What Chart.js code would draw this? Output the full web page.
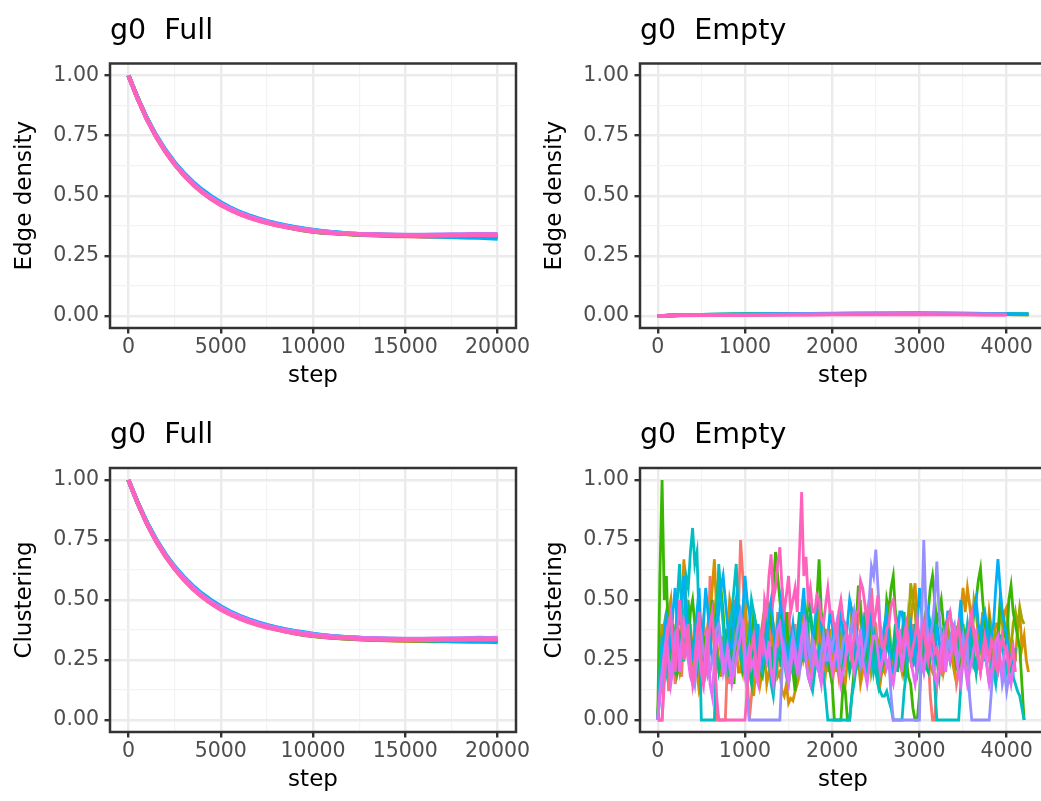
<!DOCTYPE html>
<html>
<head>
<meta charset="utf-8">
<script src="https://cdn.jsdelivr.net/npm/chart.js@4.4.1/dist/chart.umd.min.js"></script>
<style>
html,body{margin:0;padding:0;background:#ffffff;overflow:hidden;}
#wrap{position:relative;width:1041px;height:801px;overflow:hidden;background:#ffffff;}
canvas{position:absolute;}
</style>
</head>
<body>
<div id="wrap">
<canvas id="c1" width="540" height="400" style="left:0px;top:0px;"></canvas>
<canvas id="c2" width="540" height="400" style="left:530px;top:0px;"></canvas>
<canvas id="c3" width="540" height="404" style="left:0px;top:400px;"></canvas>
<canvas id="c4" width="540" height="404" style="left:530px;top:400px;"></canvas>
</div>
<script>
// ---------- categories / ticks ----------
const COLORS = ['#F8766D','#D89000','#A3A500','#39B600','#00BF7D','#00BFC4','#00B0F6','#9590FF','#E76BF3','#FF62BC'];
const RUNS = ['1','2','3','4','5','6','7','8','9','10'];

const X_MAJOR_FULL = [0,5000,10000,15000,20000];
const X_LABELS_FULL = ['0','5000','10000','15000','20000'];
const X_MINOR_FULL = [2500,7500,12500,17500];
const X_MAJOR_EMPTY = [0,1000,2000,3000,4000];
const X_LABELS_EMPTY = ['0','1000','2000','3000','4000'];
const X_MINOR_EMPTY = [500,1500,2500,3500];
const Y_MAJOR = [0,0.25,0.5,0.75,1];
const Y_LABELS = ['0.00','0.25','0.50','0.75','1.00'];
const Y_MINOR = [0.125,0.375,0.625,0.875];

// ---------- steps ----------
const STEPS_FULL = [0,500,1000,1500,2000,2500,3000,3500,4000,4500,5000,5500,6000,6500,7000,7500,8000,8500,9000,9500,10000,10500,11000,11500,12000,12500,13000,13500,14000,14500,15000,15500,16000,16500,17000,17500,18000,18500,19000,19500,20000];
const STEPS_EMPTY_DENS = [0,250,500,750,1000,1250,1500,1750,2000,2250,2500,2750,3000,3250,3500,3750,4000,4250];
const STEPS_EMPTY_CLUST = [
0,25,50,75,100,125,150,175,200,225,250,275,300,325,350,375,400,425,450,475,
500,525,550,575,600,625,650,675,700,725,750,775,800,825,850,875,900,925,950,975,
1000,1025,1050,1075,1100,1125,1150,1175,1200,1225,1250,1275,1300,1325,1350,1375,1400,1425,1450,1475,
1500,1525,1550,1575,1600,1625,1650,1675,1700,1725,1750,1775,1800,1825,1850,1875,1900,1925,1950,1975,
2000,2025,2050,2075,2100,2125,2150,2175,2200,2225,2250,2275,2300,2325,2350,2375,2400,2425,2450,2475,
2500,2525,2550,2575,2600,2625,2650,2675,2700,2725,2750,2775,2800,2825,2850,2875,2900,2925,2950,2975,
3000,3025,3050,3075,3100,3125,3150,3175,3200,3225,3250,3275,3300,3325,3350,3375,3400,3425,3450,3475,
3500,3525,3550,3575,3600,3625,3650,3675,3700,3725,3750,3775,3800,3825,3850,3875,3900,3925,3950,3975,
4000,4025,4050,4075,4100,4125,4150,4175,4200,4225,4250];

// ---------- Edge density, Full ----------
const ED_FULL_1 = [1.000,0.904,0.818,0.746,0.684,0.631,0.586,0.547,0.514,0.486,0.463,0.443,0.426,0.411,0.399,0.388,0.379,0.371,0.364,0.358,0.352,0.348,0.345,0.342,0.340,0.338,0.336,0.335,0.333,0.332,0.332,0.331,0.330,0.331,0.330,0.329,0.328,0.327,0.329,0.328,0.330];
const ED_FULL_2 = [1.000,0.905,0.819,0.747,0.685,0.632,0.587,0.548,0.515,0.487,0.464,0.444,0.427,0.412,0.400,0.389,0.380,0.372,0.365,0.359,0.353,0.349,0.346,0.343,0.341,0.339,0.337,0.336,0.335,0.334,0.333,0.333,0.332,0.333,0.332,0.332,0.331,0.332,0.330,0.331,0.332];
const ED_FULL_3 = [1.000,0.906,0.821,0.749,0.687,0.634,0.589,0.550,0.517,0.489,0.466,0.446,0.429,0.415,0.403,0.392,0.382,0.373,0.366,0.360,0.355,0.350,0.347,0.344,0.342,0.340,0.339,0.338,0.337,0.336,0.335,0.335,0.334,0.334,0.335,0.334,0.333,0.334,0.333,0.334,0.333];
const ED_FULL_4 = [1.000,0.905,0.820,0.748,0.686,0.633,0.588,0.549,0.516,0.488,0.465,0.446,0.430,0.416,0.403,0.391,0.380,0.371,0.363,0.356,0.351,0.347,0.344,0.342,0.340,0.338,0.337,0.336,0.335,0.334,0.334,0.333,0.333,0.334,0.333,0.332,0.333,0.332,0.333,0.332,0.333];
const ED_FULL_5 = [1.000,0.905,0.820,0.748,0.686,0.633,0.588,0.549,0.516,0.488,0.465,0.445,0.428,0.414,0.402,0.391,0.381,0.372,0.365,0.359,0.354,0.349,0.346,0.343,0.341,0.339,0.338,0.337,0.336,0.335,0.334,0.334,0.333,0.333,0.334,0.333,0.333,0.332,0.333,0.332,0.331];
const ED_FULL_6 = [1.000,0.906,0.822,0.750,0.689,0.636,0.591,0.553,0.520,0.492,0.469,0.449,0.432,0.417,0.404,0.393,0.384,0.376,0.369,0.362,0.356,0.352,0.349,0.346,0.343,0.341,0.339,0.338,0.337,0.336,0.335,0.334,0.334,0.333,0.333,0.332,0.332,0.331,0.330,0.329,0.327];
const ED_FULL_7 = [1.000,0.907,0.823,0.752,0.691,0.639,0.595,0.557,0.525,0.497,0.473,0.452,0.434,0.419,0.406,0.395,0.385,0.377,0.370,0.364,0.358,0.353,0.349,0.346,0.343,0.341,0.339,0.337,0.336,0.335,0.334,0.333,0.332,0.331,0.330,0.329,0.328,0.327,0.326,0.324,0.322];
const ED_FULL_8 = [1.000,0.905,0.820,0.748,0.687,0.634,0.590,0.551,0.518,0.490,0.467,0.447,0.430,0.415,0.402,0.391,0.382,0.374,0.367,0.361,0.356,0.351,0.348,0.345,0.343,0.341,0.340,0.339,0.338,0.338,0.337,0.337,0.337,0.338,0.338,0.339,0.339,0.340,0.341,0.340,0.341];
const ED_FULL_9 = [1.000,0.904,0.819,0.747,0.686,0.633,0.588,0.550,0.517,0.489,0.466,0.446,0.429,0.414,0.402,0.391,0.381,0.373,0.366,0.360,0.354,0.350,0.347,0.344,0.342,0.340,0.339,0.338,0.337,0.336,0.336,0.335,0.336,0.336,0.337,0.336,0.337,0.338,0.337,0.338,0.339];
const ED_FULL_10 = [1.000,0.904,0.818,0.745,0.683,0.630,0.585,0.546,0.513,0.485,0.461,0.441,0.424,0.409,0.397,0.387,0.378,0.370,0.363,0.357,0.352,0.348,0.345,0.343,0.341,0.339,0.338,0.337,0.336,0.336,0.335,0.335,0.336,0.335,0.336,0.337,0.336,0.337,0.338,0.337,0.336];

// ---------- Edge density, Empty ----------
const ED_EMPTY_1 = [0.000,0.003,0.004,0.005,0.006,0.006,0.007,0.007,0.008,0.008,0.008,0.009,0.009,0.008,0.008,0.007];
const ED_EMPTY_2 = [0.000,0.003,0.005,0.005,0.006,0.007,0.007,0.008,0.008,0.009,0.009,0.009,0.010,0.009,0.009,0.008,0.007,0.006];
const ED_EMPTY_3 = [0.000,0.004,0.005,0.006,0.006,0.007,0.008,0.008,0.009,0.009,0.010,0.010,0.010,0.009,0.009,0.008,0.007,0.007];
const ED_EMPTY_4 = [0.000,0.003,0.004,0.005,0.006,0.006,0.007,0.008,0.008,0.009,0.009,0.010,0.010,0.010,0.009,0.008,0.007,0.006];
const ED_EMPTY_5 = [0.000,0.004,0.005,0.006,0.007,0.007,0.008,0.008,0.009,0.010,0.010,0.010,0.011,0.010,0.009,0.008,0.008];
const ED_EMPTY_6 = [0.000,0.004,0.005,0.006,0.007,0.008,0.008,0.009,0.010,0.010,0.011,0.011,0.011,0.010,0.010,0.009,0.008,0.007];
const ED_EMPTY_7 = [0.000,0.003,0.005,0.006,0.006,0.007,0.008,0.009,0.009,0.010,0.010,0.011,0.011,0.011,0.010,0.009,0.008,0.007];
const ED_EMPTY_8 = [0.000,0.003,0.004,0.005,0.005,0.006,0.006,0.007,0.007,0.008,0.008,0.008,0.009,0.008,0.008,0.007,0.006];
const ED_EMPTY_9 = [0.000,0.003,0.004,0.004,0.005,0.005,0.006,0.006,0.007,0.007,0.007,0.008,0.008,0.007,0.007,0.006,0.006];
const ED_EMPTY_10 = [0.000,0.002,0.003,0.004,0.004,0.005,0.005,0.005,0.006,0.006,0.006,0.006,0.006,0.006,0.006,0.005,0.005];

// ---------- Clustering, Full ----------
const CL_FULL_1 = [1.000,0.903,0.817,0.745,0.683,0.630,0.585,0.546,0.513,0.485,0.462,0.442,0.425,0.410,0.398,0.387,0.378,0.370,0.363,0.357,0.351,0.347,0.344,0.341,0.339,0.337,0.335,0.334,0.333,0.332,0.331,0.330,0.330,0.329,0.330,0.328,0.327,0.328,0.327,0.328,0.329];
const CL_FULL_2 = [1.000,0.904,0.818,0.746,0.684,0.631,0.586,0.547,0.514,0.486,0.463,0.443,0.426,0.411,0.399,0.388,0.379,0.371,0.364,0.358,0.352,0.348,0.345,0.342,0.340,0.338,0.336,0.335,0.334,0.333,0.332,0.332,0.331,0.331,0.330,0.331,0.330,0.329,0.330,0.329,0.330];
const CL_FULL_3 = [1.000,0.905,0.820,0.748,0.686,0.633,0.588,0.549,0.516,0.488,0.465,0.445,0.428,0.414,0.402,0.391,0.381,0.372,0.365,0.359,0.354,0.349,0.346,0.343,0.341,0.339,0.338,0.337,0.336,0.335,0.334,0.334,0.333,0.333,0.332,0.333,0.332,0.333,0.332,0.333,0.332];
const CL_FULL_4 = [1.000,0.904,0.819,0.747,0.685,0.632,0.587,0.548,0.515,0.487,0.464,0.445,0.429,0.415,0.402,0.390,0.379,0.370,0.362,0.355,0.350,0.346,0.343,0.341,0.339,0.337,0.336,0.335,0.334,0.333,0.333,0.332,0.332,0.331,0.332,0.331,0.330,0.331,0.330,0.331,0.330];
const CL_FULL_5 = [1.000,0.905,0.821,0.749,0.687,0.634,0.589,0.550,0.517,0.489,0.466,0.446,0.429,0.415,0.403,0.392,0.382,0.373,0.366,0.360,0.355,0.350,0.347,0.344,0.342,0.340,0.339,0.338,0.337,0.336,0.335,0.335,0.334,0.334,0.333,0.334,0.333,0.333,0.332,0.333,0.332];
const CL_FULL_6 = [1.000,0.906,0.822,0.751,0.690,0.637,0.592,0.554,0.521,0.493,0.470,0.450,0.433,0.418,0.405,0.394,0.385,0.377,0.370,0.363,0.357,0.353,0.350,0.347,0.344,0.342,0.340,0.339,0.338,0.337,0.336,0.336,0.335,0.335,0.334,0.334,0.333,0.333,0.332,0.331,0.330];
const CL_FULL_7 = [1.000,0.907,0.824,0.753,0.692,0.640,0.596,0.558,0.526,0.498,0.474,0.453,0.435,0.420,0.407,0.396,0.386,0.378,0.371,0.365,0.359,0.354,0.350,0.347,0.344,0.342,0.340,0.338,0.337,0.336,0.335,0.334,0.333,0.332,0.331,0.330,0.329,0.328,0.327,0.326,0.324];
const CL_FULL_8 = [1.000,0.905,0.821,0.749,0.688,0.635,0.591,0.552,0.519,0.491,0.468,0.448,0.431,0.416,0.403,0.392,0.383,0.375,0.368,0.362,0.357,0.352,0.349,0.346,0.344,0.342,0.341,0.340,0.339,0.339,0.338,0.338,0.338,0.339,0.339,0.340,0.340,0.341,0.342,0.341,0.342];
const CL_FULL_9 = [1.000,0.904,0.819,0.747,0.686,0.633,0.589,0.550,0.517,0.489,0.466,0.446,0.429,0.415,0.402,0.391,0.382,0.374,0.367,0.361,0.355,0.351,0.348,0.345,0.343,0.341,0.340,0.339,0.338,0.337,0.337,0.336,0.337,0.337,0.338,0.337,0.338,0.339,0.338,0.339,0.340];
const CL_FULL_10 = [1.000,0.903,0.817,0.744,0.682,0.629,0.584,0.545,0.512,0.484,0.460,0.440,0.423,0.408,0.396,0.386,0.377,0.369,0.362,0.356,0.351,0.347,0.344,0.342,0.340,0.338,0.337,0.336,0.335,0.335,0.334,0.334,0.335,0.334,0.335,0.336,0.335,0.336,0.337,0.336,0.337];

// ---------- Clustering, Empty (every 25 steps) ----------
const CL_EMPTY_1 = [
0,0,0.00,0.20,0.35,0.12,0.20,0.28,0.15,0.22,0.30,0.18,0.42,0.33,0.25,0.40,0.18,0.27,0.30,0.15,
0.22,0.40,0.35,0.25,0.60,0.45,0.30,0.00,0.00,0.00,0.00,0.00,0.25,0.15,0.40,0.50,0.33,0.45,0.75,0.60,
0.45,0.20,0.00,0.10,0.20,0.35,0.30,0.18,0.25,0.40,0.50,0.30,0.40,0.25,0.30,0.45,0.22,0.30,0.35,0.20,
0.45,0.33,0.30,0.40,0.20,0.27,0.38,0.25,0.28,0.40,0.22,0.15,0.35,0.45,0.25,0.18,0.30,0.38,0.20,0.28,
0.15,0.22,0.25,0.18,0.30,0.40,0.22,0.30,0.35,0.25,0.28,0.35,0.40,0.50,0.30,0.38,0.45,0.35,0.55,0.42,
0.40,0.28,0.30,0.20,0.22,0.33,0.30,0.15,0.18,0.25,0.25,0.35,0.33,0.22,0.20,0.30,0.25,0.40,0.30,0.20,
0.22,0.30,0.35,0.45,0.28,0.10,0.00,0.00,0.15,0.25,0.30,0.20,0.22,0.33,0.35,0.28,0.25,0.15,0.20,0.30,
0.30,0.22,0.40,0.30,0.25,0.38,0.35,0.25,0.20,0.28,0.30,0.22,0.15,0.30,0.25,0.18,0.20];
const CL_EMPTY_2 = [
0,0.25,0.40,0.30,0.25,0.45,0.50,0.28,0.35,0.22,0.20,0.45,0.67,0.50,0.40,0.22,0.30,0.40,0.20,0.12,
0.15,0.25,0.30,0.40,0.45,0.55,0.67,0.45,0.40,0.30,0.25,0.35,0.35,0.50,0.45,0.30,0.30,0.20,0.20,0.40,
0.55,0.35,0.40,0.20,0.10,0.22,0.30,0.15,0.20,0.28,0.15,0.20,0.25,0.40,0.35,0.18,0.20,0.12,0.10,0.15,
0.07,0.09,0.08,0.12,0.15,0.20,0.25,0.33,0.35,0.25,0.20,0.27,0.30,0.45,0.40,0.30,0.25,0.20,0.30,0.38,
0.20,0.28,0.35,0.22,0.25,0.18,0.15,0.25,0.30,0.45,0.40,0.30,0.25,0.15,0.20,0.25,0.30,0.42,0.35,0.28,
0.25,0.18,0.15,0.22,0.20,0.35,0.30,0.20,0.25,0.30,0.35,0.25,0.20,0.28,0.30,0.45,0.40,0.50,0.57,0.40,
0.35,0.28,0.25,0.35,0.30,0.22,0.20,0.30,0.40,0.33,0.30,0.20,0.25,0.38,0.35,0.25,0.20,0.28,0.30,0.45,
0.55,0.45,0.55,0.48,0.40,0.35,0.30,0.25,0.35,0.45,0.25,0.33,0.45,0.38,0.30,0.40,0.40,0.30,0.35,0.45,
0.47,0.35,0.30,0.22,0.25,0.38,0.45,0.30,0.35,0.25,0.20];
const CL_EMPTY_3 = [
0,0.20,0.30,0.40,0.45,0.30,0.25,0.33,0.35,0.25,0.20,0.28,0.30,0.42,0.50,0.35,0.25,0.30,0.35,0.45,
0.40,0.30,0.20,0.25,0.30,0.38,0.45,0.33,0.25,0.18,0.35,0.28,0.20,0.25,0.30,0.45,0.40,0.30,0.25,0.20,
0.30,0.40,0.20,0.28,0.35,0.25,0.25,0.33,0.40,0.30,0.30,0.22,0.20,0.30,0.25,0.40,0.35,0.25,0.30,0.35,
0.20,0.28,0.30,0.22,0.25,0.30,0.35,0.45,0.40,0.30,0.25,0.35,0.30,0.40,0.45,0.35,0.35,0.25,0.25,0.30,
0.30,0.38,0.20,0.28,0.35,0.25,0.25,0.33,0.30,0.45,0.40,0.30,0.25,0.20,0.35,0.28,0.30,0.38,0.20,0.25,
0.25,0.30,0.35,0.25,0.30,0.45,0.40,0.30,0.25,0.35,0.30,0.22,0.35,0.28,0.20,0.40,0.57,0.50,0.45,0.33,
0.30,0.25,0.35,0.45,0.25,0.30,0.40,0.33,0.30,0.22,0.20,0.30,0.35,0.42,0.25,0.33,0.30,0.38,0.40,0.30,
0.30,0.38,0.25,0.30,0.35,0.50,0.45,0.35,0.30,0.42,0.40,0.33,0.35,0.28,0.25,0.35,0.30,0.45,0.40,0.35,
0.35,0.28,0.30,0.40,0.45,0.38,0.47,0.42,0.40];
const CL_EMPTY_4 = [
0,0.60,1.00,0.50,0.60,0.30,0.17,0.40,0.33,0.20,0.25,0.35,0.42,0.28,0.30,0.45,0.50,0.40,0.36,0.25,
0.22,0.35,0.28,0.20,0.40,0.50,0.30,0.45,0.62,0.55,0.45,0.30,0.33,0.40,0.25,0.15,0.40,0.48,0.30,0.20,
0.22,0.30,0.35,0.25,0.45,0.38,0.30,0.20,0.18,0.25,0.27,0.45,0.40,0.55,0.70,0.60,0.50,0.40,0.35,0.45,
0.28,0.35,0.20,0.12,0.30,0.22,0.25,0.33,0.38,0.50,0.45,0.35,0.30,0.50,0.67,0.45,0.40,0.30,0.25,0.20,
0.15,0.00,0.00,0.00,0.00,0.15,0.12,0.00,0.00,0.10,0.20,0.40,0.56,0.45,0.35,0.25,0.25,0.35,0.45,0.38,
0.30,0.25,0.20,0.30,0.35,0.50,0.45,0.55,0.60,0.45,0.40,0.33,0.30,0.20,0.25,0.18,0.15,0.05,0.00,0.00,
0.10,0.25,0.35,0.45,0.45,0.55,0.60,0.50,0.40,0.45,0.50,0.40,0.35,0.28,0.25,0.35,0.30,0.22,0.20,0.30,
0.40,0.30,0.25,0.38,0.35,0.45,0.50,0.58,0.63,0.50,0.40,0.33,0.30,0.25,0.22,0.30,0.35,0.50,0.45,0.40,
0.30,0.50,0.56,0.45,0.40,0.35,0.30,0.15,0.00];
const CL_EMPTY_5 = [
0,0.15,0.25,0.33,0.40,0.28,0.30,0.22,0.20,0.30,0.35,0.25,0.25,0.38,0.45,0.35,0.30,0.22,0.20,0.30,
0.35,0.25,0.25,0.33,0.30,0.45,0.40,0.28,0.20,0.25,0.30,0.38,0.25,0.18,0.35,0.45,0.45,0.35,0.30,0.22,
0.25,0.30,0.20,0.15,0.30,0.40,0.35,0.25,0.25,0.33,0.40,0.30,0.30,0.22,0.20,0.28,0.25,0.38,0.35,0.25,
0.30,0.22,0.20,0.28,0.35,0.45,0.25,0.33,0.30,0.40,0.45,0.35,0.30,0.25,0.20,0.30,0.35,0.28,0.25,0.33,
0.30,0.38,0.40,0.30,0.25,0.20,0.35,0.28,0.20,0.25,0.30,0.40,0.25,0.30,0.35,0.45,0.30,0.22,0.25,0.33,
0.20,0.15,0.30,0.22,0.25,0.30,0.35,0.25,0.30,0.40,0.20,0.28,0.35,0.45,0.25,0.33,0.30,0.22,0.40,0.30,
0.25,0.33,0.30,0.22,0.20,0.28,0.35,0.45,0.25,0.18,0.30,0.38,0.40,0.30,0.25,0.33,0.30,0.25,0.35,0.45,
0.25,0.30,0.30,0.22,0.35,0.28,0.20,0.30,0.30,0.38,0.25,0.33,0.40,0.30,0.30,0.22,0.25,0.35,0.35,0.28,
0.30,0.22,0.20,0.28,0.25];
const CL_EMPTY_6 = [
0,0.20,0.35,0.25,0.20,0.35,0.45,0.33,0.30,0.50,0.65,0.45,0.40,0.60,0.55,0.70,0.80,0.65,0.70,0.40,
0.00,0.00,0.00,0.00,0.00,0.00,0.00,0.35,0.65,0.50,0.40,0.25,0.30,0.40,0.45,0.55,0.65,0.45,0.30,0.22,
0.20,0.28,0.35,0.50,0.45,0.38,0.30,0.22,0.20,0.30,0.35,0.25,0.15,0.10,0.20,0.28,0.30,0.35,0.25,0.18,
0.15,0.22,0.30,0.25,0.20,0.28,0.35,0.25,0.25,0.18,0.15,0.12,0.20,0.25,0.30,0.22,0.20,0.10,0.00,0.00,
0.00,0.00,0.00,0.00,0.00,0.00,0.00,0.00,0.00,0.10,0.15,0.22,0.25,0.35,0.30,0.25,0.20,0.28,0.30,0.20,
0.25,0.15,0.12,0.10,0.10,0.12,0.08,0.05,0.00,0.00,0.00,0.00,0.00,0.12,0.20,0.30,0.35,0.28,0.25,0.20,
0.30,0.22,0.20,0.30,0.25,0.40,0.35,0.15,0.00,0.00,0.00,0.00,0.00,0.00,0.00,0.00,0.00,0.00,0.00,0.15,
0.25,0.33,0.40,0.30,0.30,0.22,0.20,0.28,0.35,0.25,0.25,0.33,0.30,0.22,0.20,0.15,0.25,0.33,0.30,0.25,
0.20,0.28,0.25,0.18,0.15,0.12,0.10,0.05,0.00];
const CL_EMPTY_7 = [
0,0.10,0.20,0.35,0.45,0.30,0.30,0.45,0.55,0.40,0.40,0.50,0.60,0.45,0.35,0.25,0.25,0.35,0.45,0.55,
0.30,0.40,0.55,0.45,0.35,0.25,0.25,0.35,0.45,0.55,0.60,0.50,0.40,0.30,0.30,0.42,0.50,0.40,0.35,0.45,
0.60,0.50,0.45,0.35,0.30,0.22,0.40,0.30,0.25,0.33,0.35,0.45,0.50,0.38,0.30,0.40,0.45,0.55,0.35,0.28,
0.25,0.33,0.40,0.30,0.30,0.38,0.45,0.55,0.35,0.28,0.25,0.33,0.40,0.48,0.50,0.40,0.30,0.25,0.35,0.45,
0.40,0.30,0.25,0.35,0.45,0.38,0.30,0.40,0.50,0.45,0.35,0.25,0.25,0.33,0.40,0.30,0.30,0.38,0.45,0.35,
0.35,0.28,0.25,0.33,0.40,0.45,0.30,0.22,0.20,0.28,0.35,0.45,0.45,0.38,0.30,0.35,0.40,0.30,0.25,0.40,
0.55,0.45,0.35,0.40,0.45,0.35,0.30,0.25,0.40,0.33,0.25,0.30,0.35,0.45,0.45,0.38,0.30,0.35,0.40,0.50,
0.35,0.28,0.25,0.33,0.40,0.45,0.50,0.40,0.35,0.42,0.45,0.38,0.30,0.35,0.40,0.55,0.67,0.55,0.45,0.40,
0.35,0.28,0.25,0.20,0.30];
const CL_EMPTY_8 = [
0,0.10,0.15,0.22,0.30,0.25,0.20,0.28,0.35,0.30,0.25,0.33,0.40,0.35,0.30,0.22,0.20,0.15,0.25,0.30,
0.35,0.28,0.25,0.18,0.20,0.25,0.30,0.38,0.40,0.33,0.25,0.20,0.30,0.25,0.20,0.28,0.35,0.40,0.45,0.38,
0.30,0.10,0.00,0.00,0.00,0.00,0.00,0.00,0.00,0.00,0.00,0.00,0.00,0.00,0.00,0.00,0.00,0.20,0.30,0.25,
0.20,0.28,0.35,0.30,0.25,0.20,0.30,0.38,0.40,0.30,0.25,0.33,0.30,0.22,0.20,0.28,0.35,0.25,0.25,0.33,
0.30,0.35,0.40,0.30,0.25,0.33,0.35,0.28,0.30,0.40,0.45,0.35,0.30,0.22,0.25,0.30,0.35,0.50,0.64,0.60,
0.71,0.55,0.40,0.33,0.30,0.22,0.25,0.10,0.00,0.00,0.00,0.00,0.00,0.00,0.00,0.00,0.00,0.00,0.00,0.00,
0.00,0.40,0.75,0.45,0.30,0.35,0.40,0.50,0.66,0.45,0.35,0.28,0.25,0.33,0.30,0.38,0.40,0.30,0.25,0.30,
0.35,0.25,0.30,0.10,0.00,0.00,0.00,0.00,0.00,0.00,0.00,0.00,0.00,0.12,0.25,0.30,0.20,0.25,0.15,0.20,
0.12,0.18,0.15];
const CL_EMPTY_9 = [
0,0.12,0.20,0.28,0.35,0.25,0.15,0.22,0.30,0.38,0.20,0.30,0.40,0.33,0.25,0.18,0.15,0.25,0.35,0.28,
0.20,0.15,0.30,0.38,0.15,0.10,0.25,0.33,0.35,0.28,0.20,0.25,0.30,0.22,0.15,0.20,0.25,0.30,0.35,0.42,
0.20,0.25,0.30,0.22,0.25,0.18,0.15,0.28,0.35,0.30,0.25,0.33,0.20,0.15,0.30,0.38,0.40,0.32,0.25,0.20,
0.15,0.22,0.30,0.25,0.20,0.28,0.35,0.40,0.25,0.18,0.15,0.22,0.30,0.25,0.20,0.15,0.25,0.30,0.35,0.28,
0.20,0.25,0.30,0.22,0.15,0.20,0.25,0.33,0.35,0.28,0.20,0.25,0.30,0.38,0.25,0.20,0.15,0.22,0.30,0.35,
0.35,0.28,0.20,0.25,0.30,0.22,0.25,0.18,0.15,0.22,0.30,0.38,0.20,0.28,0.35,0.30,0.25,0.20,0.15,0.22,
0.30,0.25,0.20,0.28,0.35,0.30,0.25,0.18,0.15,0.22,0.30,0.35,0.20,0.28,0.25,0.30,0.35,0.25,0.20,0.15,
0.30,0.22,0.15,0.20,0.25,0.30,0.35,0.28,0.20,0.25,0.30,0.22,0.15,0.20,0.25,0.33,0.35,0.25,0.20,0.28,
0.30,0.20,0.15,0.22,0.25];
const CL_EMPTY_10 = [
0,0.00,0.00,0.15,0.30,0.40,0.45,0.30,0.20,0.35,0.50,0.40,0.25,0.33,0.40,0.25,0.15,0.22,0.35,0.45,
0.25,0.15,0.20,0.30,0.40,0.45,0.30,0.10,0.00,0.00,0.00,0.00,0.00,0.00,0.00,0.00,0.00,0.00,0.00,0.00,
0.00,0.12,0.25,0.30,0.35,0.25,0.20,0.35,0.30,0.50,0.45,0.60,0.69,0.50,0.55,0.65,0.72,0.55,0.45,0.52,
0.60,0.45,0.50,0.55,0.45,0.70,0.95,0.60,0.68,0.50,0.55,0.45,0.45,0.52,0.50,0.42,0.40,0.48,0.55,0.45,
0.45,0.38,0.35,0.45,0.50,0.42,0.40,0.33,0.30,0.25,0.35,0.45,0.45,0.58,0.55,0.48,0.40,0.45,0.50,0.40,
0.45,0.52,0.35,0.30,0.30,0.38,0.40,0.48,0.50,0.42,0.35,0.28,0.30,0.35,0.40,0.32,0.25,0.30,0.35,0.42,
0.30,0.35,0.40,0.30,0.25,0.33,0.35,0.28,0.30,0.22,0.20,0.28,0.35,0.42,0.45,0.38,0.30,0.35,0.40,0.30,
0.25,0.30,0.35,0.40,0.45,0.35,0.30,0.25,0.20,0.28,0.35,0.30,0.25,0.33,0.30,0.22,0.20,0.28,0.35,0.30,
0.30,0.22,0.25,0.30,0.20];

const ED_FULL = [ED_FULL_1,ED_FULL_2,ED_FULL_3,ED_FULL_4,ED_FULL_5,ED_FULL_6,ED_FULL_7,ED_FULL_8,ED_FULL_9,ED_FULL_10];
const ED_EMPTY = [ED_EMPTY_1,ED_EMPTY_2,ED_EMPTY_3,ED_EMPTY_4,ED_EMPTY_5,ED_EMPTY_6,ED_EMPTY_7,ED_EMPTY_8,ED_EMPTY_9,ED_EMPTY_10];
const CL_FULL = [CL_FULL_1,CL_FULL_2,CL_FULL_3,CL_FULL_4,CL_FULL_5,CL_FULL_6,CL_FULL_7,CL_FULL_8,CL_FULL_9,CL_FULL_10];
const CL_EMPTY = [CL_EMPTY_1,CL_EMPTY_2,CL_EMPTY_3,CL_EMPTY_4,CL_EMPTY_5,CL_EMPTY_6,CL_EMPTY_7,CL_EMPTY_8,CL_EMPTY_9,CL_EMPTY_10];

// ---------- rendering ----------
Chart.defaults.font.family = "'DejaVu Sans', sans-serif";

const panelDecor = {
  id: 'panelDecor',
  afterDatasetsDraw(chart) {
    const {ctx, chartArea: a} = chart;
    ctx.save();
    ctx.strokeStyle = '#333333';
    ctx.lineWidth = 2.5;
    ctx.strokeRect(a.left, a.top, a.right - a.left, a.bottom - a.top);
    ctx.restore();
  },
  afterDraw(chart, args, opts) {
    const {ctx, chartArea: a} = chart;
    ctx.save();
    ctx.font = "28.5px 'DejaVu Sans', sans-serif";
    ctx.fillStyle = '#000000';
    ctx.textAlign = 'left';
    ctx.textBaseline = 'alphabetic';
    ctx.fillText(opts.text, a.left, a.top - 25);
    ctx.restore();
  }
};

function axisOpts(majors, labels, minors, min, max, isX, titleText) {
  const all = majors.concat(minors).sort((a, b) => a - b);
  const isMajor = (c) => c.tick && majors.indexOf(c.tick.value) >= 0;
  const o = {
    type: 'linear',
    min: min, max: max,
    bounds: 'data',
    afterBuildTicks: (axis) => { axis.ticks = all.map(v => ({value: v})); },
    ticks: {
      autoSkip: false, maxRotation: 0, minRotation: 0,
      padding: isX ? 1.5 : 5.5,
      color: '#4D4D4D',
      font: {size: 20.5, lineHeight: 1.2},
      callback: (v) => { const i = majors.indexOf(v); return i >= 0 ? labels[i] : ''; }
    },
    grid: {
      drawTicks: true,
      tickLength: 5.5,
      color: (c) => isMajor(c) ? '#EBEBEB' : '#F3F3F3',
      lineWidth: (c) => isMajor(c) ? 2.4 : 1.2,
      tickColor: (c) => isMajor(c) ? '#333333' : 'rgba(0,0,0,0)',
      tickWidth: 2.4
    },
    border: {display: false},
    title: {
      display: true, text: titleText, color: '#000000',
      font: {size: 23, lineHeight: 1.2},
      padding: isX ? {top: 0, bottom: 10} : {top: 11.5, bottom: 0}
    }
  };
  if (isX) o.afterFit = (axis) => { axis.height = 72; };
  else o.afterFit = (axis) => { axis.width = 110; };
  return o;
}

function makePanel(id, title, steps, series, xMajors, xLabels, xMinors, xMin, xMax, yTitle, padTop, lw) {
  const datasets = series.map((vals, i) => ({
    label: RUNS[i],
    data: vals,
    borderColor: COLORS[i],
    backgroundColor: COLORS[i],
    borderWidth: lw,
    pointRadius: 0,
    pointHoverRadius: 0,
    tension: 0,
    fill: false,
    order: series.length - 1 - i
  }));
  new Chart(document.getElementById(id), {
    type: 'line',
    data: {labels: steps, datasets: datasets},
    plugins: [panelDecor],
    options: {
      responsive: false,
      devicePixelRatio: 1,
      animation: false,
      events: [],
      layout: {padding: {left: 0, right: 24, top: padTop, bottom: 0}},
      plugins: {
        legend: {display: false},
        tooltip: {enabled: false},
        title: {display: false},
        panelDecor: {text: title}
      },
      scales: {
        x: axisOpts(xMajors, xLabels, xMinors, xMin, xMax, true, 'step'),
        y: axisOpts(Y_MAJOR, Y_LABELS, Y_MINOR, -0.05, 1.05, false, yTitle)
      }
    }
  });
}

makePanel('c1', 'g0  Full', STEPS_FULL, ED_FULL, X_MAJOR_FULL, X_LABELS_FULL, X_MINOR_FULL, -1000, 21000, 'Edge density', 63.5, 4.2);
makePanel('c2', 'g0  Empty', STEPS_EMPTY_DENS, ED_EMPTY, X_MAJOR_EMPTY, X_LABELS_EMPTY, X_MINOR_EMPTY, -203, 4451, 'Edge density', 63.5, 3.4);
makePanel('c3', 'g0  Full', STEPS_FULL, CL_FULL, X_MAJOR_FULL, X_LABELS_FULL, X_MINOR_FULL, -1000, 21000, 'Clustering', 68, 4.2);
makePanel('c4', 'g0  Empty', STEPS_EMPTY_CLUST, CL_EMPTY, X_MAJOR_EMPTY, X_LABELS_EMPTY, X_MINOR_EMPTY, -203, 4451, 'Clustering', 68, 2.8);
</script>
</body>
</html>
